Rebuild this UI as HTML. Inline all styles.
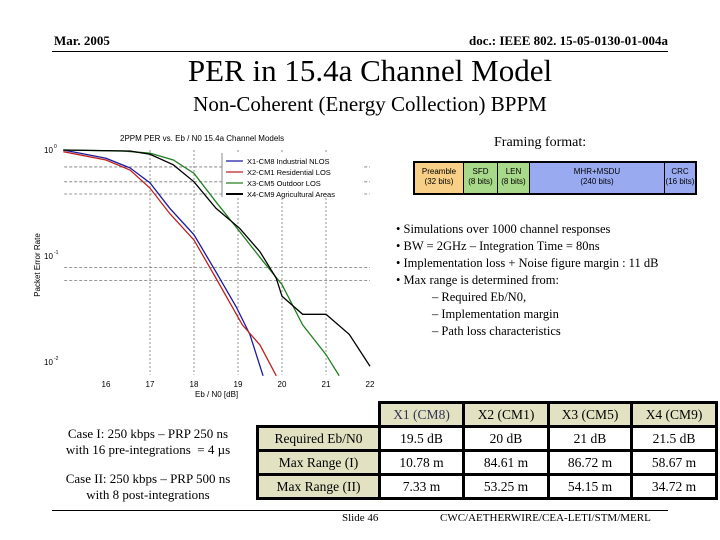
<!DOCTYPE html>
<html><head><meta charset="utf-8"><style>
body{margin:0;width:720px;height:540px;background:#fff;position:relative;overflow:hidden;font-family:"Liberation Serif",serif;color:#000}
.a{position:absolute;white-space:nowrap}
table{position:absolute;left:256px;top:401px;border-collapse:collapse;font-size:13.5px;table-layout:fixed}
td{border:3px solid #000;text-align:center;height:21px;padding:0;line-height:20px;box-sizing:border-box}
tr{height:24px}
.h{background:#e2e2c2}
.fr span{display:inline-block;text-align:center;font-family:"Liberation Sans",sans-serif;font-size:8px;line-height:10px;height:30px;padding-top:4px;box-sizing:border-box;vertical-align:top}
</style></head><body>
<div class="a" style="left:54px;top:33px;font-size:13px;font-weight:bold">Mar. 2005</div>
<div class="a" style="right:52px;top:33px;font-size:13px;font-weight:bold">doc.: IEEE 802. 15-05-0130-01-004a</div>
<div class="a" style="left:52px;top:51px;width:616px;height:1px;background:#000"></div>
<div class="a" style="left:0;width:740px;text-align:center;top:53px;font-size:31px">PER in 15.4a Channel Model</div>
<div class="a" style="left:0;width:740px;text-align:center;top:92px;font-size:21px">Non-Coherent (Energy Collection) BPPM</div>

<svg class="a" style="left:0;top:125px" width="390" height="280" id="chart"></svg>

<div class="a" style="left:494px;top:135px;font-size:14px">Framing format:</div>
<div class="a fr" style="left:413px;top:161px;height:30px;border:2px solid #000;background:#000;display:flex;gap:1px">
<span style="width:48px;background:#f7cf86">Preamble<br>(32 bits)</span>
<span style="width:33px;background:#a8d88a">SFD<br>(8 bits)</span>
<span style="width:31px;background:#a8d88a">LEN<br>(8 bits)</span>
<span style="width:134px;background:#99aaf0">MHR+MSDU<br>(240 bits)</span>
<span style="width:30px;background:#99aaf0">CRC<br>(16 bits)</span>
</div>
<div class="a" style="left:396px;top:221px;font-size:12.5px;line-height:17px">
• Simulations over 1000 channel responses<br>• BW = 2GHz – Integration Time = 80ns<br>• Implementation loss + Noise figure margin : 11 dB<br>• Max range is determined from:<br>
<span style="padding-left:36px">– Required Eb/N0,</span><br><span style="padding-left:36px">– Implementation margin</span><br><span style="padding-left:36px">– Path loss characteristics</span></div>

<div class="a" style="left:48px;top:426px;width:200px;text-align:center;font-size:13px;line-height:16px">Case I: 250 kbps – PRP 250 ns<br>with 16 pre-integrations &nbsp;= 4 µs</div>
<div class="a" style="left:48px;top:471px;width:200px;text-align:center;font-size:13px;line-height:16px">Case II: 250 kbps – PRP 500 ns<br>with 8 post-integrations</div>

<table>
<colgroup><col style="width:122px"><col style="width:84px"><col style="width:85px"><col style="width:83px"><col style="width:85px"></colgroup>
<tr><td style="border:none;border-bottom:3px solid #000"></td><td class="h" style="color:#335">X1 (CM8)</td><td class="h">X2 (CM1)</td><td class="h">X3 (CM5)</td><td class="h">X4 (CM9)</td></tr>
<tr><td class="h">Required Eb/N0</td><td>19.5 dB</td><td>20 dB</td><td>21 dB</td><td>21.5 dB</td></tr>
<tr><td class="h">Max Range (I)</td><td>10.78 m</td><td>84.61 m</td><td>86.72 m</td><td>58.67 m</td></tr>
<tr><td class="h">Max Range (II)</td><td>7.33 m</td><td>53.25 m</td><td>54.15 m</td><td>34.72 m</td></tr>
</table>
<div class="a" style="left:52px;top:510px;width:616px;height:1px;background:#000"></div>
<div class="a" style="left:342px;top:512px;font-size:11px">Slide 46</div>
<div class="a" style="left:440px;top:512px;font-size:11px">CWC/AETHERWIRE/CEA-LETI/STM/MERL</div>

<script>
const xTicks=[16,17,18,19,20,21,22];
const yTicks=[0,-1,-2];
const x1X=[15.03,16.0,16.55,17.0,17.45,18.0,18.5,18.96,19.27,19.57];
const x1Y=[0,-0.078,-0.17,-0.31,-0.55,-0.80,-1.15,-1.48,-1.74,-2.13];
const x2X=[15.03,16.0,16.55,17.0,17.45,18.0,18.5,19.1,19.5,19.87];
const x2Y=[-0.016,-0.094,-0.19,-0.36,-0.6,-0.85,-1.21,-1.65,-1.84,-2.13];
const x3X=[15.03,16.4,17.0,17.53,18.0,18.5,19.04,19.57,20.0,20.47,21.0,21.3];
const x3Y=[0,-0.01,-0.03,-0.094,-0.22,-0.49,-0.77,-1.05,-1.27,-1.65,-1.93,-2.13];
const x4X=[15.03,16.55,17.0,17.53,18.0,18.5,19.04,19.5,19.87,20.0,20.47,21.0,21.53,22.0];
const x4Y=[0,-0.01,-0.04,-0.14,-0.3,-0.55,-0.74,-0.96,-1.21,-1.38,-1.55,-1.55,-1.74,-2.04];
const gridY=[-0.16,-0.30,-0.415,-1.11,-1.23];
const seriesNames=["X1-CM8  Industrial NLOS","X2-CM1  Residential LOS","X3-CM5  Outdoor LOS","X4-CM9  Agricultural Areas"];
const colors=["#1a1aa0","#c02020","#208020","#000"];
const NS="http://www.w3.org/2000/svg";
const svg=document.getElementById('chart');
const sx=v=>62+(v-15)*44;
const sy=l=>25-l*106;
function el(t,a,txt){const e=document.createElementNS(NS,t);for(const k in a)e.setAttribute(k,a[k]);if(txt!==undefined)e.textContent=txt;svg.appendChild(e);return e;}
let g;
xTicks.forEach(t=>{if(t>=17&&t<=21){g=el('line',{x1:sx(t),x2:sx(t),y1:sy(0),y2:sy(-2.12),stroke:'#777','stroke-dasharray':'2,2','stroke-width':0.8});

}
g=el('text',{x:sx(t),y:262,'font-size':8,'text-anchor':'middle','font-family':'Liberation Sans'},t);

});
gridY.forEach(v=>{g=el('line',{x1:sx(15.05),x2:sx(22),y1:sy(v),y2:sy(v),stroke:'#777','stroke-dasharray':'3,2','stroke-width':0.8});

});
yTicks.forEach(t=>{g=el('text',{x:44,y:sy(t)+3,'font-size':8,'font-family':'Liberation Sans'},'10');


const s=el('text',{x:54,y:sy(t)-2,'font-size':5,'font-family':'Liberation Sans'},t===0?'0':String(t));

});
[[x1X,x1Y],[x2X,x2Y],[x3X,x3Y],[x4X,x4Y]].forEach((s,i)=>{
const p=el('polyline',{points:s[0].map((v,j)=>sx(v)+','+sy(s[1][j])).join(' '),fill:'none',stroke:colors[i],'stroke-width':1.3});

});
g=el('rect',{x:222,y:28,width:140,height:44,fill:'#fff'});


g=el('line',{x1:222,x2:222,y1:28,y2:72,stroke:'#888'});


seriesNames.forEach((n,i)=>{const y=36+i*11;
const l=el('line',{x1:226,x2:243,y1:y,y2:y,stroke:colors[i],'stroke-width':i==3?2:1.3});


const t=el('text',{x:247,y:y+3,'font-size':7.5,'font-family':'Liberation Sans'},n);

});
g=el('text',{x:120,y:16,'font-size':8,'font-family':'Liberation Sans'},'2PPM    PER vs. Eb / N0   15.4a Channel Models');


g=el('text',{x:195,y:272,'font-size':8,'font-family':'Liberation Sans'},'Eb / N0 [dB]');


g=el('text',{x:40,y:140,'font-size':8,'font-family':'Liberation Sans',transform:'rotate(-90 40 140)','text-anchor':'middle'},'Packet Error Rate');


</script>
</body></html>
